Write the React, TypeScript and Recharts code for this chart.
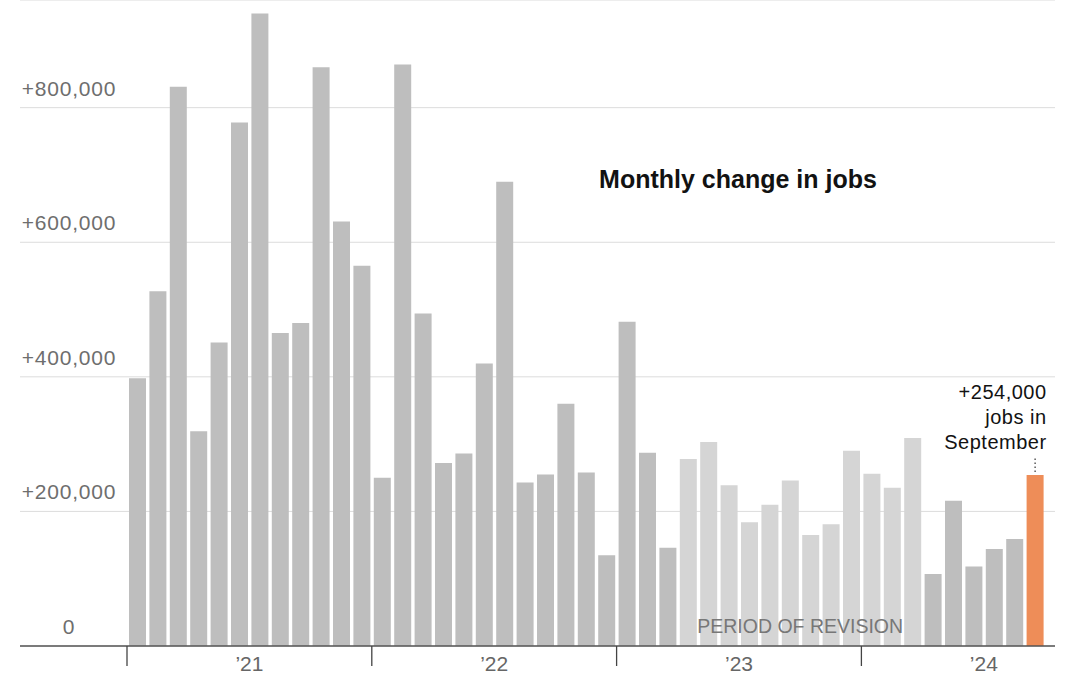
import React from "react";
import {
  BarChart,
  Bar,
  Cell,
  XAxis,
  YAxis,
  CartesianGrid,
  ReferenceArea,
  LabelList,
} from "recharts";

const months = [
  "Jan 2021", "Feb 2021", "Mar 2021", "Apr 2021", "May 2021", "Jun 2021",
  "Jul 2021", "Aug 2021", "Sep 2021", "Oct 2021", "Nov 2021", "Dec 2021",
  "Jan 2022", "Feb 2022", "Mar 2022", "Apr 2022", "May 2022", "Jun 2022",
  "Jul 2022", "Aug 2022", "Sep 2022", "Oct 2022", "Nov 2022", "Dec 2022",
  "Jan 2023", "Feb 2023", "Mar 2023", "Apr 2023", "May 2023", "Jun 2023",
  "Jul 2023", "Aug 2023", "Sep 2023", "Oct 2023", "Nov 2023", "Dec 2023",
  "Jan 2024", "Feb 2024", "Mar 2024", "Apr 2024", "May 2024", "Jun 2024",
  "Jul 2024", "Aug 2024", "Sep 2024",
];

// monthly change in jobs
const jobs = [
  398000, 527000, 831000, 319000, 451000, 778000, 940000, 465000, 480000, 860000, 631000, 565000,
  250000, 864000, 494000, 272000, 286000, 420000, 690000, 243000, 255000, 360000, 258000, 135000,
  482000, 287000, 146000, 278000, 303000, 239000, 184000, 210000, 246000, 165000, 181000, 290000,
  256000, 235000, 309000, 107000, 216000, 118000, 144000, 159000, 254000,
];

const yTicks = [0, 200000, 400000, 600000, 800000];
const revisionStart = "Apr 2023";
const revisionEnd = "Mar 2024";
const latestNote = ["+254,000", "jobs in", "September"];

const FONT = "'Liberation Sans', Arial, Helvetica, sans-serif";
const DARK = "#bebebe";
const LIGHT = "#d5d5d5";
const ORANGE = "#ee8d58";

const data = months.map((month, i) => ({ month, jobs: jobs[i] }));
const revFrom = months.indexOf(revisionStart);
const revTo = months.indexOf(revisionEnd);
const last = months.length - 1;

const fmt = (v: number) => (v === 0 ? "0" : "+" + v.toLocaleString("en-US"));

const YTick = ({ y, payload }: any) => (
  <text
    x={69}
    y={y - 12}
    textAnchor="middle"
    fill="#6e6e6e"
    fontSize={21}
    letterSpacing={0.8}
    fontFamily={FONT}
  >
    {fmt(payload.value)}
  </text>
);

const XTick = ({ x, y, payload }: any) => {
  const [mon, yr] = String(payload.value).split(" ");
  const half = payload.offset ?? 10;
  if (mon === "Jan") {
    return (
      <line x1={x - half} x2={x - half} y1={y} y2={y + 20} stroke="#444" strokeWidth={1.3} />
    );
  }
  if (mon === "Jul") {
    return (
      <text
        x={x - half}
        y={y + 25}
        textAnchor="middle"
        fill="#666"
        fontSize={21}
        fontFamily={FONT}
      >
        {"\u2019" + yr.slice(2)}
      </text>
    );
  }
  return <g />;
};

const Annotation = (props: any) => {
  const { x, y, width, index } = props;
  if (index !== last) return null;
  const right = x + width + 3;
  const cx = x + width / 2;
  return (
    <g>
      <line
        x1={cx}
        x2={cx}
        y1={y - 3}
        y2={y - 19}
        stroke="#333"
        strokeWidth={1.2}
        strokeDasharray="1.5 2.5"
      />
      {latestNote.map((t, i) => (
        <text
          key={t}
          x={right}
          y={y - 76 + i * 25}
          textAnchor="end"
          fill="#121212"
          fontSize={20}
          letterSpacing={0.5}
          fontFamily={FONT}
        >
          {t}
        </text>
      ))}
    </g>
  );
};

export default function App() {
  return (
    <div style={{ position: "absolute", left: 0, top: 0, width: 1080, height: 675, background: "#fff" }}>
      <BarChart
        width={1080}
        height={675}
        data={data}
        margin={{ top: 0, right: 25, bottom: 0, left: 20 }}
      >
        <CartesianGrid vertical={false} stroke="#dcdcdc" strokeWidth={1} />
        <YAxis
          width={60}
          mirror
          domain={[0, 960000]}
          ticks={yTicks}
          interval={0}
          axisLine={false}
          tickLine={false}
          tick={<YTick />}
        />
        <XAxis
          dataKey="month"
          height={29}
          interval={0}
          padding={{ left: 107, right: 10 }}
          tickSize={0}
          tickMargin={0}
          tickLine={false}
          axisLine={{ stroke: "#555", strokeWidth: 1.5 }}
          tick={<XTick />}
        />
        <Bar dataKey="jobs" barSize={17} isAnimationActive={false}>
          {data.map((d, i) => (
            <Cell
              key={d.month}
              fill={i === last ? ORANGE : i >= revFrom && i <= revTo ? LIGHT : DARK}
            />
          ))}
          <LabelList dataKey="jobs" content={<Annotation />} />
        </Bar>
        <ReferenceArea
          x1={revisionStart}
          x2={revisionEnd}
          fill="none"
          fillOpacity={0}
          stroke="none"
          label={{
            value: "PERIOD OF REVISION",
            position: "insideBottom",
            offset: 13,
            fill: "#777",
            fontSize: 19.5,
            fontFamily: FONT,
          }}
        />
      </BarChart>
      <div
        style={{
          position: "absolute",
          left: 538,
          top: 165,
          width: 400,
          textAlign: "center",
          fontFamily: FONT,
          fontWeight: 700,
          fontSize: 25,
          color: "#121212",
          whiteSpace: "nowrap",
        }}
      >
        Monthly change in jobs
      </div>
    </div>
  );
}
